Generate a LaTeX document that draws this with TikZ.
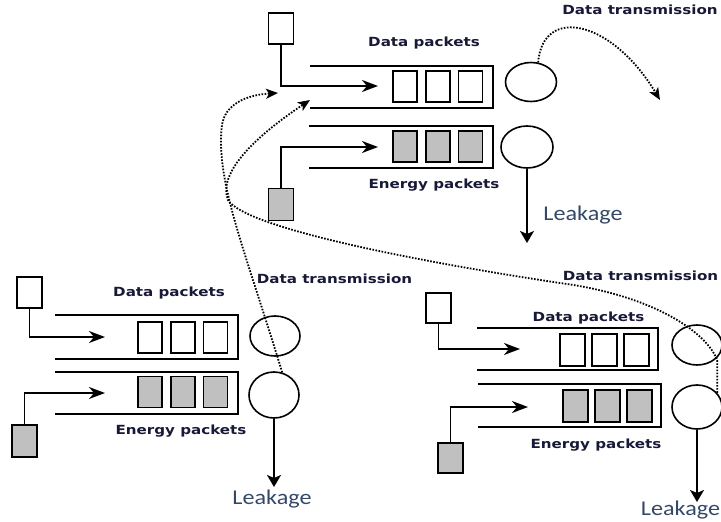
\documentclass[tikz,border=0pt]{standalone}
\usepackage{fontspec}
\usetikzlibrary{arrows.meta,shapes.geometric}
\newfontfamily\lblfont[FakeStretch=1.2]{DejaVu Sans}
\newfontfamily\leakfont[FakeStretch=1.15]{Carlito}
\definecolor{boxgray}{RGB}{192,192,192}
\definecolor{lblnavy}{RGB}{24,24,56}
\definecolor{leakblue}{RGB}{52,72,104}
\begin{document}
\begin{tikzpicture}[x=1pt,y=-1pt,
  ln/.style={line width=1.8pt},
  pkt/.style={draw, line width=1.9pt, minimum width=24pt, minimum height=31pt, inner sep=0pt},
  wpkt/.style={pkt, fill=white},
  gpkt/.style={pkt, fill=boxgray},
  srcw/.style={pkt, fill=white, minimum width=25pt, minimum height=31pt},
  srcg/.style={pkt, fill=boxgray, minimum width=25pt, minimum height=32pt},
  server/.style={draw, ellipse, line width=1.6pt, inner sep=0pt},
  feed/.style={ln, -{Stealth[length=16pt,width=12pt,inset=5pt]}},
  leakarr/.style={ln, -{Stealth[length=12pt,width=14pt,inset=3pt]}},
  tx/.style={line width=1.8pt, dash pattern=on 1.6pt off 1.5pt, -{Stealth[length=12pt,width=10pt,inset=3pt]}},
  lbl/.style={font=\lblfont\bfseries\fontsize{12.6}{14}\selectfont, text=lblnavy, anchor=base, inner sep=0pt},
  leak/.style={font=\leakfont\fontsize{21}{24}\selectfont, text=leakblue, anchor=base, inner sep=0pt},
]
\useasboundingbox (0,0) rectangle (721,522);

% ---------- top module ----------
\node[srcw] (Tsrc) at (281,28.5) {};
\coordinate (Tarr) at (378,86);
\draw[feed] (Tsrc.south) |- (Tarr);
\draw[ln] (310,66) -- (493,66) -- (493,108) -- (310,108);
\node[wpkt] (Tw1) at (405,86.5) {};
\node[wpkt] (Tw2) at (438,86.5) {};
\node[wpkt] (Tw3) at (470.5,86.5) {};
\node[server, minimum width=51pt, minimum height=39pt] (Tdc) at (531,82) {};
\draw[ln] (309,126) -- (493,126) -- (493,168) -- (309,168);
\node[gpkt] (Tg1) at (405,146.5) {};
\node[gpkt] (Tg2) at (438,146.5) {};
\node[gpkt] (Tg3) at (470.5,146.5) {};
\node[server, minimum width=52pt, minimum height=42pt] (Tec) at (527,147) {};
\node[srcg] (Tesrc) at (281,204.5) {};
\coordinate (Tearr) at (378,147);
\draw[feed] (Tesrc.north) |- (Tearr);
\coordinate (Tleak) at (527,243);
\draw[leakarr] (Tec.south) -- (Tleak);
\node[lbl] (Tdp) at (424,46.7) {Data packets};
\node[lbl] (Tep) at (434,188.7) {Energy packets};
\node[lbl] (Tdt) at (640,15) {Data transmission};
\node[leak] (Tlk) at (583,220.7) {Leakage};

% ---------- bottom-left module ----------
\node[srcw] (Lsrc) at (29.5,292.5) {};
\coordinate (Larr) at (105,337);
\draw[feed] (Lsrc.south) |- (Larr);
\draw[ln] (55,315) -- (238,315) -- (238,359) -- (55,359);
\node[wpkt] (Lw1) at (150,337.5) {};
\node[wpkt] (Lw2) at (183,337.5) {};
\node[wpkt] (Lw3) at (215.5,337.5) {};
\node[server, minimum width=50pt, minimum height=40pt] (Ldc) at (275,336) {};
\draw[ln] (55,372) -- (238,372) -- (238,414) -- (55,414);
\node[gpkt] (Lg1) at (150,392) {};
\node[gpkt] (Lg2) at (183,392) {};
\node[gpkt] (Lg3) at (215.5,392) {};
\node[server, minimum width=50pt, minimum height=46pt] (Lec) at (274,395) {};
\node[srcg] (Lesrc) at (24.5,441) {};
\coordinate (Learr) at (105,393);
\draw[feed] (Lesrc.north) |- (Learr);
\coordinate (Lleak) at (274,487);
\draw[leakarr] (Lec.south) -- (Lleak);
\node[lbl] (Ldp) at (169,296.7) {Data packets};
\node[lbl] (Lep) at (181,434) {Energy packets};
\node[lbl] (Ldt) at (334.5,283) {Data transmission};
\node[leak] (Llk) at (272,504) {Leakage};

% ---------- bottom-right module ----------
\node[srcw, minimum height=30pt] (Rsrc) at (438.5,308) {};
\coordinate (Rarr) at (520,349);
\draw[feed] (Rsrc.south) |- (Rarr);
\draw[ln] (477,328) -- (658,328) -- (658,370) -- (477,370);
\node[wpkt, minimum width=25pt, minimum height=32pt] (Rw1) at (572.5,350) {};
\node[wpkt, minimum width=25pt, minimum height=32pt] (Rw2) at (604.5,350) {};
\node[wpkt, minimum width=25pt, minimum height=32pt] (Rw3) at (636.5,350) {};
\node[server, minimum width=50pt, minimum height=40pt] (Rdc) at (697,345) {};
\draw[ln] (478,384) -- (661,384) -- (661,427) -- (478,427);
\node[gpkt, minimum width=25pt, minimum height=32pt] (Rg1) at (575.5,406) {};
\node[gpkt, minimum width=25pt, minimum height=32pt] (Rg2) at (607.5,406) {};
\node[gpkt, minimum width=25pt, minimum height=32pt] (Rg3) at (639.5,406) {};
\node[server, minimum width=50pt, minimum height=44pt] (Rec) at (697,407) {};
\node[srcg, minimum height=30pt] (Resrc) at (450.5,458) {};
\coordinate (Rearr) at (528,407);
\draw[feed] (Resrc.north) |- (Rearr);
\coordinate (Rleak) at (697,502);
\draw[leakarr] (Rec.south) -- (Rleak);
\node[lbl] (Rdp) at (588.5,321.7) {Data packets};
\node[lbl] (Rep) at (596,448) {Energy packets};
\node[lbl] (Rdt) at (640.5,280.7) {Data transmission};
\node[leak] (Rlk) at (680.5,515) {Leakage};

% ---------- data transmission links ----------
\coordinate (Tout) at (660,100);
\draw[tx] (Tdc.70) .. controls (543,5) and (612,20) .. (Tout);
\coordinate (TinA) at (278,93);
\draw[tx] (Lec.70) .. controls (245,250) and (215,180) .. (222,125)
  .. controls (225,105) and (245,95) .. (TinA);
\coordinate (TinB) at (310,100);
\draw[tx] (Rec.35) -- ++(0,-33) .. controls (705,330) and (650,295) .. (560,283)
  .. controls (420,262) and (245,228) .. (228,200)
  .. controls (218,175) and (250,140) .. (TinB);
\end{tikzpicture}
\end{document}
